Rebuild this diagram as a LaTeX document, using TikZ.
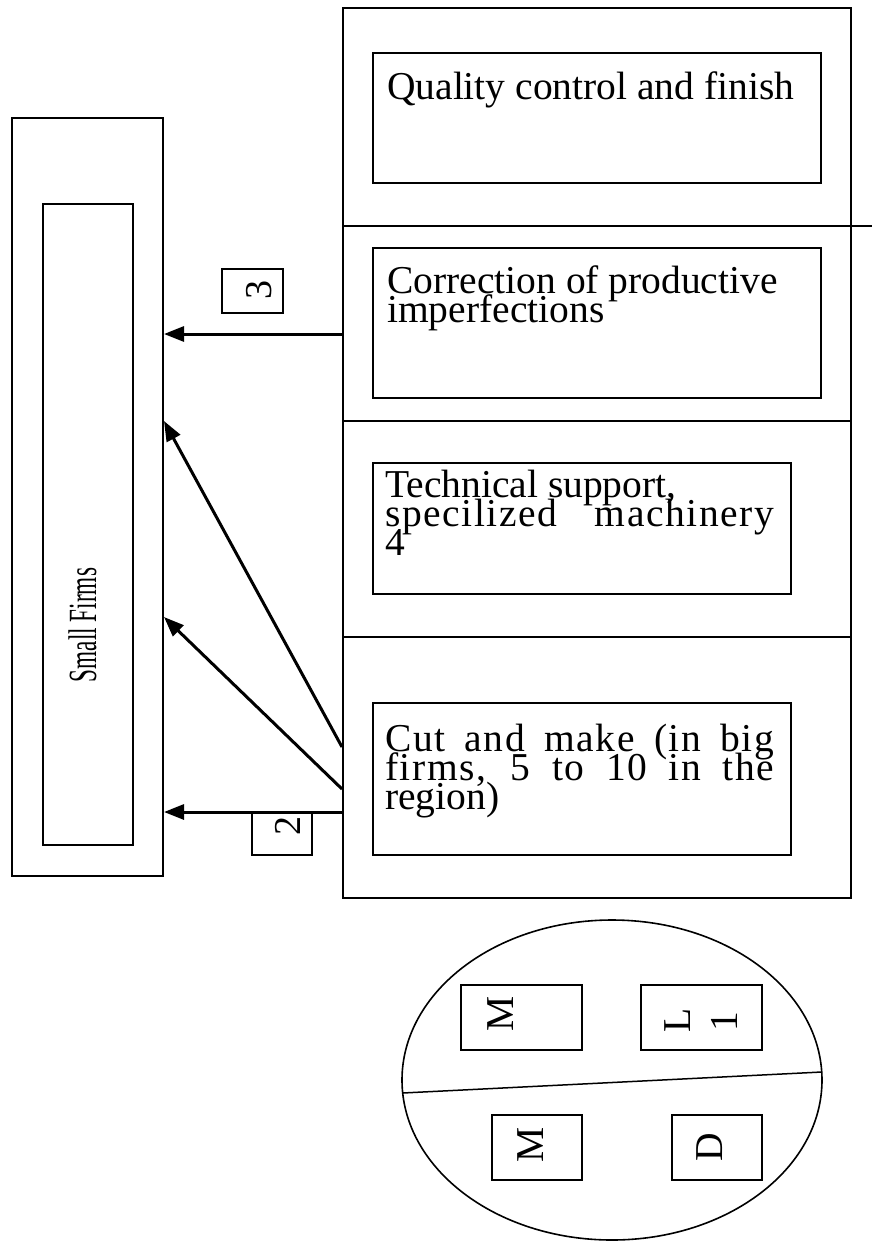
\documentclass[tikz,border=0pt]{standalone}
\usepackage{fontspec}
\setmainfont{Liberation Serif}
\usetikzlibrary{arrows.meta,shapes.geometric}
% fixed baseline distances even when lines crowd each other
\lineskiplimit=-100pt
% a line set flush to both margins of the lower text boxes,
% its extra room shared between letters and word spaces
\newcommand{\fullline}[1]{\makebox[389pt][s]{\addfontfeature{LetterSpace=4}#1}}
\begin{document}
\begin{tikzpicture}[x=1pt,y=-1pt,
  frame/.style={draw, line width=2pt, inner sep=0pt},
  thinframe/.style={draw, line width=1.6pt, inner sep=0pt},
  divider/.style={line width=1.5pt},
  flow/.style={line width=3pt, -{Triangle[length=20pt,width=15pt]}},
  stagetext/.style={inner sep=0pt, anchor=north west, align=left,
    font=\fontsize{39.5pt}{29pt}\selectfont},
  sidetext/.style={inner sep=0pt, anchor=base, rotate=90,
    font=\fontsize{39.5pt}{47pt}\selectfont},
  numtext/.style={inner sep=0pt, anchor=base, rotate=90,
    font=\fontsize{38pt}{40pt}\selectfont}]
\useasboundingbox (0,0) rectangle (872,1243);

% small firms column
\node[frame, minimum width=151pt, minimum height=758pt] (firms) at (87.5,497) {};
\node[thinframe, minimum width=90pt, minimum height=641pt] (firmsin) at (88,524.5) {};
\node[inner sep=0pt, anchor=base, rotate=90, font=\fontsize{40pt}{42pt}\selectfont] (firmslabel) at (96,625)
  {\scalebox{0.58}[1]{Small Firms}};

% production stages column
\node[frame, minimum width=508pt, minimum height=890pt] (stages) at (597,453) {};
\coordinate (rim) at (872,226);
\draw[divider] (stages.west |- 0,226) -- (rim);
\draw[divider] (stages.west |- 0,421) -- (stages.east |- 0,421);
\draw[divider] (stages.west |- 0,637) -- (stages.east |- 0,637);

\node[frame, minimum width=448pt, minimum height=130pt] (quality) at (597,118) {};
\node[stagetext] (qualitytext) at (387,69) {\rule{0pt}{30pt}Quality control and finish};

\node[frame, minimum width=448pt, minimum height=150pt] (correction) at (597,323) {};
\node[stagetext] (correctiontext) at (387,263)
  {\rule{0pt}{30pt}Correction of productive\\imperfections};

\node[frame, minimum width=418pt, minimum height=131pt] (technical) at (582,528.5) {};
\node[stagetext] (technicaltext) at (385,467)
  {\rule{0pt}{30pt}Technical support,\\\fullline{specilized machinery}\\4};

\node[frame, minimum width=418pt, minimum height=152pt] (cut) at (582,779) {};
\node[stagetext] (cuttext) at (385,721)
  {\rule{0pt}{30pt}\fullline{Cut and make (in big}\\\fullline{firms, 5 to 10 in the}\\region)};

% flows towards the small firms
\draw[flow] (stages.west |- 0,334) -- (firms.east |- 0,334);
\draw[flow] (stages.west |- 0,747) -- (firms.east |- 0,421);
\draw[flow] (stages.west |- 0,789) -- (firms.east |- 0,617);
\draw[flow] (stages.west |- 0,812) -- (firms.east |- 0,812);

\node[frame, minimum width=61pt, minimum height=44pt] (tag3) at (252.5,291) {};
\node[numtext] (tag3text) at (271,290) {3};
\node[frame, minimum width=60pt, minimum height=43pt] (tag2) at (282,833.5) {};
\node[numtext] (tag2text) at (300,826) {2};

% regional pool
\node[ellipse, draw, line width=1.6pt, minimum width=420pt, minimum height=320pt, inner sep=0pt] (pool) at (612,1080) {};
\coordinate (cutL) at (402.7,1093);
\coordinate (cutR) at (821.7,1072);
\draw[line width=1.5pt] (cutL) -- (cutR);

\node[frame, minimum width=121pt, minimum height=65pt] (m1) at (521.5,1017.5) {};
\node[sidetext] (m1text) at (513,1014) {M};
\node[frame, minimum width=121pt, minimum height=65pt] (l1) at (701.5,1017.5) {};
\node[sidetext] (l1text) at (690,1020) {L};
\node[sidetext] (l1num) at (737,1022) {1};
\node[frame, minimum width=90pt, minimum height=65pt] (m2) at (537,1147.5) {};
\node[sidetext] (m2text) at (543,1144.5) {M};
\node[frame, minimum width=90pt, minimum height=65pt] (d1) at (717,1147.5) {};
\node[sidetext] (d1text) at (722,1147) {D};
\end{tikzpicture}
\end{document}
